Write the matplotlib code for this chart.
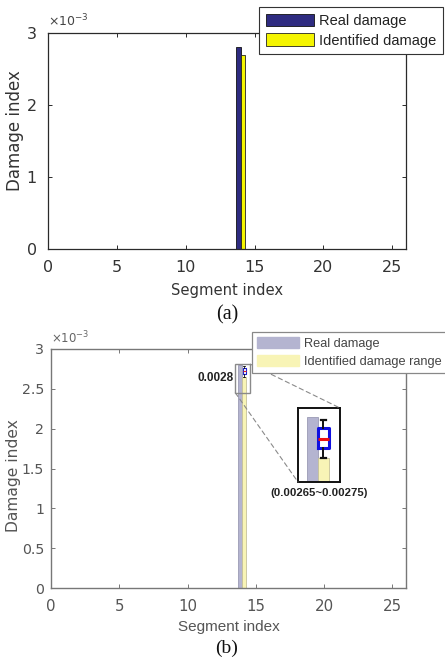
import matplotlib
matplotlib.use("Agg")
import matplotlib.pyplot as plt
from matplotlib.ticker import FuncFormatter
from matplotlib.patches import Rectangle, ConnectionPatch, Patch

# ---------------- data ----------------
segments = [14]
real_damage = [2.8e-3]
identified_damage_a = [2.7e-3]
identified_lower_b = [2.65e-3]
box_stats_b = dict(whislo=2.65e-3, q1=2.685e-3, med=2.72e-3, q3=2.76e-3, whishi=2.79e-3)
x_ticks = [0, 5, 10, 15, 20, 25]
y_ticks_a = [0, 1e-3, 2e-3, 3e-3]
y_ticks_b = [0, 0.5e-3, 1e-3, 1.5e-3, 2e-3, 2.5e-3, 3e-3]
label_real = "0.0028"
label_range = "(0.00265~0.00275)"

W, H = 445, 658
fig = plt.figure(figsize=(W / 100, H / 100), dpi=100)
fig.patch.set_facecolor("white")


def rect(l, t, r, b):
    return [l / W, 1 - b / H, (r - l) / W, (b - t) / H]


sans = ["DejaVu Sans"]
arial = ["Liberation Sans", "DejaVu Sans"]
serif = ["Liberation Serif", "DejaVu Serif"]

# ---------------- panel (a) ----------------
ax1 = fig.add_axes(rect(48, 33, 406, 249))
off = 0.16
bw = 0.32
b_real = ax1.bar([s - off for s in segments], real_damage, width=bw,
                 color="#2e2b80", edgecolor="#111111", linewidth=0.6, label="Real damage")
b_id = ax1.bar([s + off for s in segments], identified_damage_a, width=bw,
               color="#f4f400", edgecolor="#222222", linewidth=0.6, label="Identified damage")
ax1.set_xlim(0, 26)
ax1.set_ylim(0, 3e-3)
ax1.set_xticks(x_ticks)
ax1.set_yticks(y_ticks_a)
ax1.yaxis.set_major_formatter(FuncFormatter(lambda v, p: f"{v * 1e3:g}"))
for s in ax1.spines.values():
    s.set_color("#2a2a2a")
    s.set_linewidth(0.9)
ax1.tick_params(direction="in", top=True, right=True, length=3, width=0.7,
                colors="#2a2a2a", labelsize=11.5)
ax1.tick_params(axis="x", pad=8)
ax1.tick_params(axis="y", pad=8)
for lab in ax1.get_xticklabels() + ax1.get_yticklabels():
    lab.set_family(sans)
    lab.set_color("#333333")
ax1.set_xlabel("Segment index", fontsize=10.6, family=sans, color="#333333", labelpad=6)
fig.text(15 / W, 1 - 131 / H, "Damage index", rotation=90, ha="center", va="center",
         fontsize=12, family=sans, color="#333333")
ax1.text(0.0, 1.015, r"$\times\mathregular{10^{-3}}$", transform=ax1.transAxes,
         fontsize=9, color="#444444", family=sans, ha="left", va="bottom")

leg1 = fig.legend(handles=[b_real, b_id], loc="upper left",
                  bbox_to_anchor=(259 / W, 1 - 7 / H), prop=dict(family=arial, size=10.5),
                  frameon=True, fancybox=False, edgecolor="#333333", framealpha=1,
                  handlelength=3.35, handleheight=0.95, handletextpad=0.3,
                  borderpad=0.45, labelspacing=0.38, borderaxespad=0)
leg1.get_frame().set_linewidth(0.8)
for t in leg1.get_texts():
    t.set_color("#222222")

fig.text(227 / W, 1 - 315 / H, "(a)", ha="center", va="center",
         family=serif, fontsize=14.5, color="#111111")

# ---------------- panel (b) ----------------
ax2 = fig.add_axes(rect(51, 349, 406, 588))
gray_fc, gray_ec = "#b4b4d0", "#9a9ab4"
yel_fc, yel_ec = "#f8f4b6", "#c6c29a"
g_real = ax2.bar([s - 0.15 for s in segments], real_damage, width=0.3,
                 color=gray_fc, edgecolor=gray_ec, linewidth=0.6, label="Real damage")
g_id = ax2.bar([s + 0.15 for s in segments], identified_lower_b, width=0.3,
               color=yel_fc, edgecolor=yel_ec, linewidth=0.6, label="Identified damage range")
ax2.bxp([box_stats_b], positions=[segments[0] + 0.15], widths=0.24, showfliers=False,
        boxprops=dict(color="#2020d0", linewidth=0.8),
        medianprops=dict(color="#e02020", linewidth=0.8),
        whiskerprops=dict(color="#111111", linewidth=0.6),
        capprops=dict(color="#111111", linewidth=0.6), manage_ticks=False)
ax2.set_xlim(0, 26)
ax2.set_ylim(0, 3e-3)
ax2.set_xticks(x_ticks)
ax2.set_yticks(y_ticks_b)
ax2.yaxis.set_major_formatter(FuncFormatter(lambda v, p: f"{v * 1e3:g}"))
for s in ax2.spines.values():
    s.set_color("#777777")
    s.set_linewidth(1.0)
ax2.tick_params(direction="in", top=True, right=True, length=3, width=0.7,
                colors="#777777", labelsize=10.8)
ax2.tick_params(axis="x", pad=8)
ax2.tick_params(axis="y", pad=5)
for lab in ax2.get_xticklabels():
    lab.set_family(sans)
    lab.set_color("#555555")
for lab in ax2.get_yticklabels():
    lab.set_family(sans)
    lab.set_color("#555555")
    lab.set_fontsize(10.2)
ax2.set_xlabel("Segment index", fontsize=11, family=arial, color="#555555", labelpad=4)
fig.text(13.5 / W, 1 - 476 / H, "Damage index", rotation=90, ha="center", va="center",
         fontsize=11.2, family=sans, color="#555555")
ax2.text(0.0, 1.01, r"$\times\mathregular{10^{-3}}$", transform=ax2.transAxes,
         fontsize=8.5, color="#666666", family=sans, ha="left", va="bottom")

# zoom indicator
zx0, zx1, zy0, zy1 = 13.5, 14.6, 2.45e-3, 2.81e-3
ax2.add_patch(Rectangle((zx0, zy0), zx1 - zx0, zy1 - zy0, fill=False,
                        edgecolor="#8a8a8a", linewidth=1.0, zorder=5))
ax2.text(13.35, 2.636e-3, label_real, ha="right", va="center", fontsize=8.5,
         fontweight="bold", family=arial, color="#222222")

# inset
axin = fig.add_axes(rect(298, 408, 340, 482))
axin.bar([s - 0.15 for s in segments], real_damage, width=0.3,
         color=gray_fc, edgecolor=gray_ec, linewidth=0.6)
axin.bar([s + 0.15 for s in segments], identified_lower_b, width=0.3,
         color=yel_fc, edgecolor=yel_ec, linewidth=0.6)
axin.bxp([box_stats_b], positions=[segments[0] + 0.15], widths=0.3, showfliers=False,
         boxprops=dict(color="#1010e0", linewidth=2.2),
         medianprops=dict(color="#ee1111", linewidth=2.2),
         whiskerprops=dict(color="#111111", linewidth=1.4),
         capprops=dict(color="#111111", linewidth=1.6), manage_ticks=False)
axin.set_xlim(13.455, 14.6)
axin.set_ylim(2.562e-3, 2.833e-3)
axin.set_xticks([])
axin.set_yticks([])
for s in axin.spines.values():
    s.set_color("#111111")
    s.set_linewidth(1.4)

for (xa, ya), (xb, yb) in [((zx1, zy1), (1, 1)), ((zx0, zy0), (0, 0))]:
    cp = ConnectionPatch(xyA=(xa, ya), coordsA=ax2.transData, xyB=(xb, yb),
                         coordsB=axin.transAxes, linestyle=(0, (4, 3)),
                         color="#8a8a8a", linewidth=0.8)
    fig.add_artist(cp)

fig.text(319.5 / W, 1 - 493 / H, label_range, ha="center", va="center",
         fontsize=8.2, fontweight="bold", family=arial, color="#222222")

leg2 = fig.legend(handles=[Patch(facecolor=gray_fc, edgecolor=gray_fc),
                           Patch(facecolor=yel_fc, edgecolor=yel_fc)],
                  labels=["Real damage", "Identified damage range"], loc="upper left",
                  bbox_to_anchor=(252 / W, 1 - 332 / H), prop=dict(family=arial, size=9.2),
                  frameon=True, fancybox=False, edgecolor="#888888", framealpha=1,
                  handlelength=3.3, handleheight=0.95, handletextpad=0.35,
                  borderpad=0.4, labelspacing=0.4, borderaxespad=0)
leg2.get_frame().set_linewidth(0.9)
for t in leg2.get_texts():
    t.set_color("#444444")

fig.text(227 / W, 1 - 648 / H, "(b)", ha="center", va="center",
         family=serif, fontsize=14, color="#111111")

fig.savefig("out.png", dpi=100, facecolor="white")
